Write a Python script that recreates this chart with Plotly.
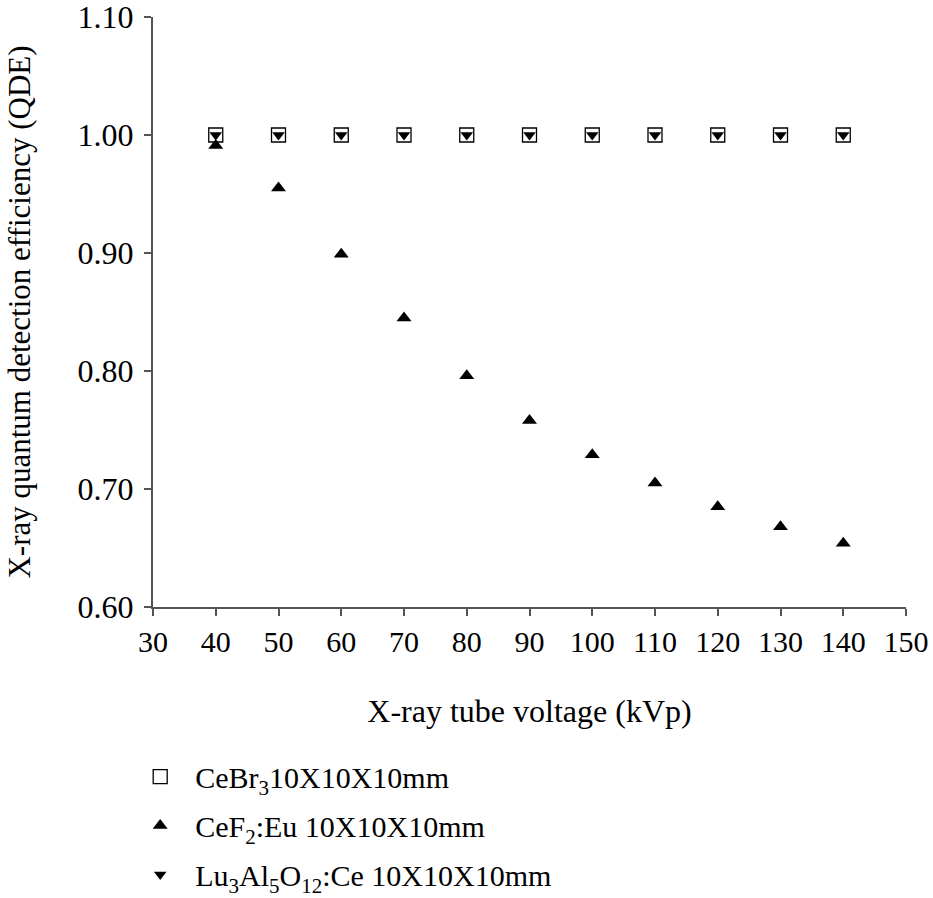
import plotly.graph_objects as go

kvp = [40, 50, 60, 70, 80, 90, 100, 110, 120, 130, 140]
cebr3 = [1.00, 1.00, 1.00, 1.00, 1.00, 1.00, 1.00, 1.00, 1.00, 1.00, 1.00]
cef2 = [0.991, 0.955, 0.899, 0.845, 0.796, 0.758, 0.729, 0.705, 0.685, 0.668, 0.654]
luag = [1.00, 1.00, 1.00, 1.00, 1.00, 1.00, 1.00, 1.00, 1.00, 1.00, 1.00]

names = ["\u00a0\u00a0CeBr<sub>3</sub>10X10X10mm",
         "\u00a0\u00a0CeF<sub>2</sub>:Eu 10X10X10mm",
         "\u00a0\u00a0Lu<sub>3</sub>Al<sub>5</sub>O<sub>12</sub>:Ce 10X10X10mm"]

FONT = "Liberation Serif"

fig = go.Figure()
fig.add_trace(go.Scatter(x=kvp, y=cebr3, mode="markers", name=names[0], legendgroup="a",
                         marker=dict(symbol="square", size=14, color="white",
                                     line=dict(color="black", width=1.3))))
fig.add_trace(go.Scatter(x=kvp, y=cef2, mode="markers", name=names[1], legendgroup="b",
                         marker=dict(symbol="triangle-up", size=13, color="black",
                                     line=dict(width=0))))
fig.add_trace(go.Scatter(x=kvp, y=luag, mode="markers", name=names[2], legendgroup="c",
                         marker=dict(symbol="triangle-down", size=11, color="black",
                                     line=dict(width=0))))

axis_common = dict(showgrid=False, zeroline=False, showline=True, linecolor="#555",
                   linewidth=2, ticks="outside", ticklen=7, tickwidth=1.5, tickcolor="#555")

fig.update_xaxes(range=[30, 150], tick0=30, dtick=10, **axis_common,
                 tickfont=dict(family=FONT, size=30, color="black"),
                 ticklabeloverflow="allow",
                 title=dict(text="X-ray tube voltage (kVp)", standoff=43,
                            font=dict(family=FONT, size=32, color="black")))
fig.update_yaxes(range=[0.60, 1.10], tick0=0.6, dtick=0.1, tickformat=".2f", **axis_common,
                 tickfont=dict(family=FONT, size=32, color="black"),
                 ticklabeloverflow="allow", ticklabelstandoff=4,
                 title=dict(text="X-ray quantum detection efficiency (QDE)", standoff=38,
                            font=dict(family=FONT, size=31, color="black")))

fig.update_layout(
    width=933, height=898,
    margin=dict(l=153, r=27, t=17, b=291, autoexpand=False),
    plot_bgcolor="white", paper_bgcolor="white",
    showlegend=True,
    legend=dict(x=-0.017, y=-0.2434, xanchor="left", yanchor="top",
                orientation="v", tracegroupgap=7,
                font=dict(family=FONT, size=30, color="black"),
                bgcolor="rgba(0,0,0,0)"),
)

fig.write_html("out.html", config={"displayModeBar": False},
               post_script="document.body.style.margin='0';document.body.style.overflow='hidden';")
